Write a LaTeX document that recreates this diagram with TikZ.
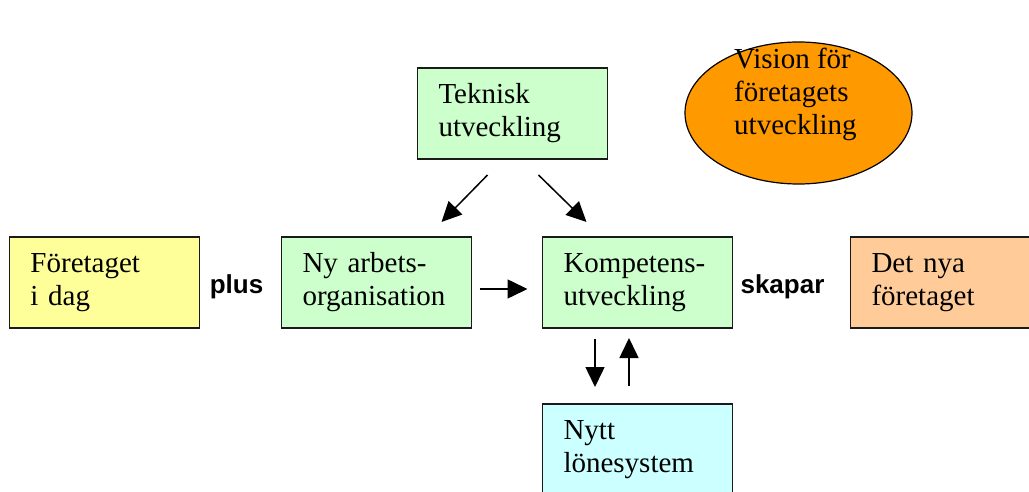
\documentclass[tikz,border=0pt]{standalone}
\usepackage{fontspec}
\setmainfont{Liberation Serif}
\newfontfamily\lblfont{Liberation Sans}
\usetikzlibrary{arrows.meta, positioning, shapes.geometric}
\definecolor{boxYellow}{HTML}{FFFF99}
\definecolor{boxGreen}{HTML}{CCFFCC}
\definecolor{boxCyan}{HTML}{CCFFFF}
\definecolor{boxPeach}{HTML}{FFCC99}
\definecolor{visOrange}{HTML}{FF9900}
\definecolor{lineDark}{HTML}{1A1A1A}
\tikzset{
  arrowK/.style={-{Triangle[length=20pt,width=19pt]}, line width=1.5pt},
  boxA/.style={rectangle, draw=lineDark, line width=1.2pt, outer sep=0pt,
               minimum width=190pt, minimum height=91pt, inner xsep=21pt,
               text width=148pt, align=left},
  boxYel/.style={boxA, fill=boxYellow},
  boxGr/.style={boxA, fill=boxGreen},
  boxCy/.style={boxA, fill=boxCyan},
  boxPe/.style={boxA, fill=boxPeach},
  visionE/.style={ellipse, draw=black, line width=1.2pt, fill=visOrange,
                  minimum width=227pt, minimum height=142pt, inner sep=0pt},
  lbl/.style={font=\lblfont\bfseries\fontsize{26}{30}\selectfont},
}
\begin{document}
\begin{tikzpicture}[x=1pt, y=-1pt, font=\fontsize{29}{33}\selectfont]
    \useasboundingbox (0,0) rectangle (1029,492);
    % main row
    \node[boxYel] (foretag) at (104.5,282.5) {Företaget\\i dag};
    \node[boxGr, right=82pt of foretag] (nyarb) {Ny arbets-\\organisation};
    \node[boxGr, right=71pt of nyarb] (kompetens) {Kompetens-\\utveckling};
    \node[boxPe, right=118pt of kompetens] (nyaftg) {Det nya\\företaget};
    \node[boxGr, above=78pt of kompetens, xshift=-125pt] (teknisk) {Teknisk\\utveckling};
    \node[boxCy, below=76pt of kompetens] (nytt) {Nytt\\lönesystem};
    \node[lbl, anchor=base] (plus) at (236.5,293) {plus};
    \node[lbl, anchor=base] (skapar) at (782.5,293) {skapar};
    % vision
    \node[visionE] (vision) at (798.5,113) {};
    \node[align=left, anchor=base west, inner sep=0pt] (visiontxt)
      at ([xshift=-64.5pt, yshift=-22pt]vision.center) {Vision för\\företagets\\utveckling};
    % arrows
    \draw[arrowK] ([xshift=-25pt, yshift=-16pt]teknisk.south) -- ([xshift=65pt, yshift=15pt]nyarb.north);
    \draw[arrowK] ([xshift=26pt, yshift=-16pt]teknisk.south) -- ([xshift=-51pt, yshift=15pt]kompetens.north);
    \draw[arrowK, shorten <=8pt, shorten >=15pt] ([yshift=-6.5pt]nyarb.east) -- ([yshift=-6.5pt]kompetens.west);
    \draw[arrowK, shorten <=11pt, shorten >=17pt] ([xshift=-42.5pt]kompetens.south) -- ([xshift=-42.5pt]nytt.north);
    \draw[arrowK, shorten <=18pt, shorten >=10pt] ([xshift=-8.5pt]nytt.north) -- ([xshift=-8.5pt]kompetens.south);
\end{tikzpicture}
\end{document}
